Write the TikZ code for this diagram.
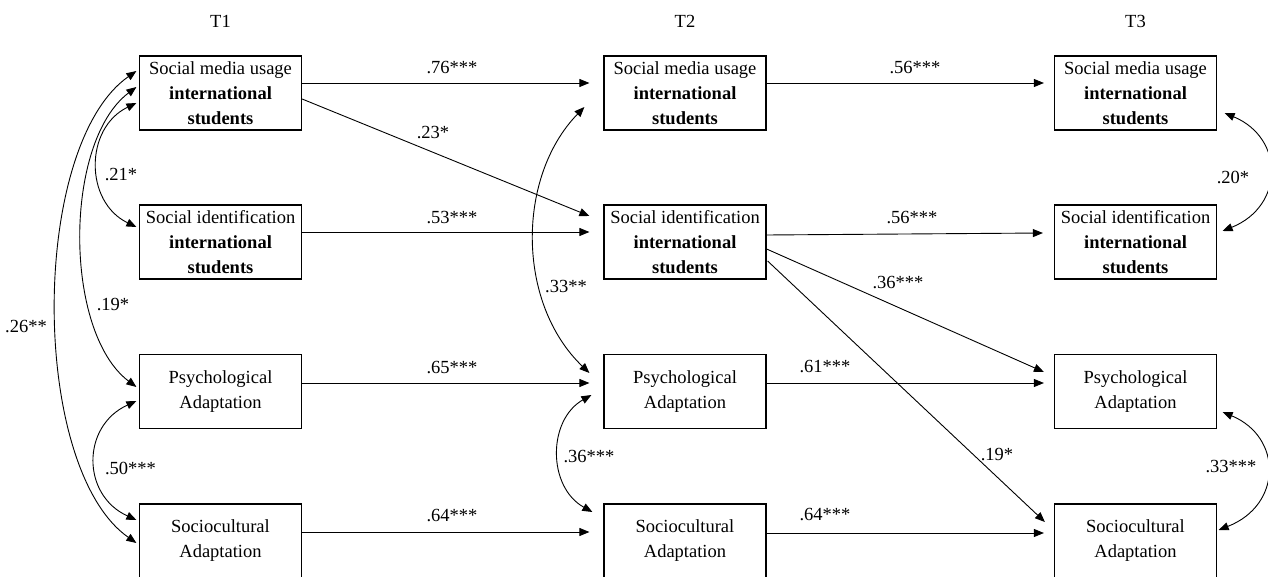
\documentclass[tikz,border=0pt]{standalone}
\usepackage{fontspec}
\setmainfont{Liberation Serif}
\usetikzlibrary{arrows.meta,calc}
\begin{document}
\begin{tikzpicture}[x=1pt,y=-1pt,
  box/.style={draw,line width=1.2pt,minimum width=162pt,minimum height=74pt,inner sep=0pt,align=center,
    font=\fontsize{18.5}{25}\selectfont},
  lab/.style={inner sep=0pt,font=\fontsize{18.5}{22}\selectfont},
  arr/.style={line width=0.9pt,-{Triangle[length=10pt,width=8pt]}},
  dbl/.style={line width=0.9pt,{Triangle[length=10pt,width=8pt]}-{Triangle[length=10pt,width=8pt]}}]
\useasboundingbox (0,0) rectangle (1268,577);
\fill[white] (0,0) rectangle (1268,577);
% titles
\node[lab] (t1) at (220.5,21) {T1};
\node[lab] (t2) at (685,21) {T2};
\node[lab] (t3) at (1135.5,21) {T3};
% boxes
\node[box] (smu1) at (220.5,93) {Social media usage\\\textbf{international}\\\textbf{students}};
\node[box] (si1) at (220.5,242) {Social identification\\\textbf{international}\\\textbf{students}};
\node[box] (psy1) at (220.5,391.5) {Psychological\\Adaptation};
\node[box] (soc1) at (220.5,541) {Sociocultural\\Adaptation};
\node[box] (smu2) at (685,93) {Social media usage\\\textbf{international}\\\textbf{students}};
\node[box] (si2) at (685,242) {Social identification\\\textbf{international}\\\textbf{students}};
\node[box] (psy2) at (685,391.5) {Psychological\\Adaptation};
\node[box] (soc2) at (685,541) {Sociocultural\\Adaptation};
\node[box] (smu3) at (1135.5,93) {Social media usage\\\textbf{international}\\\textbf{students}};
\node[box] (si3) at (1135.5,242) {Social identification\\\textbf{international}\\\textbf{students}};
\node[box] (psy3) at (1135.5,391.5) {Psychological\\Adaptation};
\node[box] (soc3) at (1135.5,541) {Sociocultural\\Adaptation};
% straight paths
\draw[arr] ($(smu1.east)+(0,-10)$) -- ($(smu2.west)+(-14,-10)$);
\draw[arr] ($(smu1.east)+(0,6)$) -- ($(si2.west)+(-14,-26)$);
\draw[arr] ($(si1.east)+(0,-10)$) -- ($(si2.west)+(-14,-10)$);
\draw[arr] ($(psy1.east)+(0,-8.5)$) -- ($(psy2.west)+(-14,-8.5)$);
\draw[arr] ($(soc1.east)+(0,-9)$) -- ($(soc2.west)+(-14,-9)$);
\draw[arr] ($(smu2.east)+(0,-10)$) -- ($(smu3.west)+(-10,-10)$);
\draw[arr] ($(si2.east)+(0,-7)$) -- ($(si3.west)+(-11,-9)$);
\draw[arr] ($(si2.east)+(0,7)$) -- ($(psy3.west)+(-10,-19.5)$);
\draw[arr] ($(si2.east)+(1,19)$) -- ($(soc3.west)+(-9,-19)$);
\draw[arr] ($(psy2.east)+(0,-8.5)$) -- ($(psy3.west)+(-10,-8.5)$);
\draw[arr] ($(soc2.east)+(0,-8)$) -- ($(soc3.west)+(-10,-8)$);
% path labels
\node[lab] (l1) at (452,68) {.76***};
\node[lab] (l2) at (433,133) {.23*};
\node[lab] (l3) at (452,218) {.53***};
\node[lab] (l4) at (452,368) {.65***};
\node[lab] (l5) at (452,516) {.64***};
\node[lab] (l6) at (915,68) {.56***};
\node[lab] (l7) at (912,218) {.56***};
\node[lab] (l8) at (898,283) {.36***};
\node[lab] (l9) at (997,455) {.19*};
\node[lab] (l10) at (825,367) {.61***};
\node[lab] (l11) at (825,515) {.64***};
% covariances
\draw[dbl] ($(smu1.west)+(-2.5,10)$) .. controls +(-52,25) and +(-52,-25) .. ($(si1.west)+(-2.5,-15)$);
\draw[dbl] ($(smu1.west)+(-2.5,-6)$) .. controls +(-73,55) and +(-73,-55) .. ($(psy1.west)+(-2.5,-4.5)$);
\draw[dbl] ($(smu1.west)+(-2.5,-22)$) .. controls +(-107,75) and +(-107,-75) .. ($(soc1.west)+(-2.5,2)$);
\draw[dbl] ($(psy1.west)+(-2.5,9.5)$) .. controls +(-55,25) and +(-55,-25) .. ($(soc1.west)+(-2.5,-21)$);
\draw[dbl] ($(smu2.west)+(-19,14)$) .. controls +(-68,70) and +(-73,-70) .. ($(psy2.west)+(-14,-18.5)$);
\draw[dbl] ($(psy2.west)+(-12,3.5)$) .. controls +(-44,25) and +(-45,-25) .. ($(soc2.west)+(-11,-29)$);
\draw[dbl] ($(smu3.east)+(7.5,20)$) .. controls +(60,25) and +(62,-25) .. ($(si3.east)+(5.5,-11)$);
\draw[dbl] ($(psy3.east)+(5.5,20.5)$) .. controls +(60,25) and +(64,-25) .. ($(soc3.east)+(1.5,-11)$);
% covariance labels
\node[lab] (c1) at (121,175) {.21*};
\node[lab] (c2) at (113,305) {.19*};
\node[lab] (c3) at (26,327) {.26**};
\node[lab] (c4) at (130.5,468) {.50***};
\node[lab] (c5) at (566,287) {.33**};
\node[lab] (c6) at (589,457) {.36***};
\node[lab] (c7) at (1233,177) {.20*};
\node[lab] (c8) at (1231,467) {.33***};
\end{tikzpicture}
\end{document}
